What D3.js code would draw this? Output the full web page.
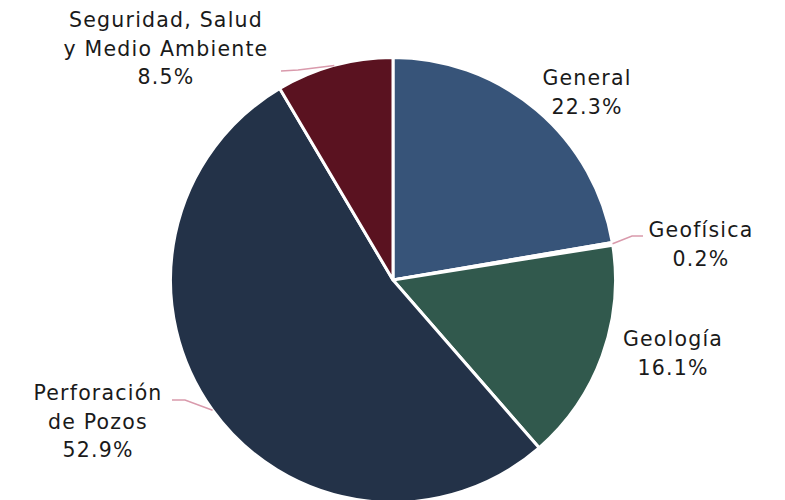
<!DOCTYPE html>
<html>
<head>
<meta charset="utf-8">
<script src="https://cdn.jsdelivr.net/npm/d3@7"></script>
<style>
  html, body { margin: 0; padding: 0; background: #fff; }
</style>
</head>
<body>
<div id="chart"></div>
<script>
const categories = ["General", "Geofísica", "Geología", "Perforación de Pozos", "Seguridad, Salud y Medio Ambiente"];
const values = [22.3, 0.2, 16.1, 52.9, 8.5];
const labelLines = [
  ["General"],
  ["Geofísica"],
  ["Geología"],
  ["Perforación", "de Pozos"],
  ["Seguridad, Salud", "y Medio Ambiente"]
];
const colors = ["#375479", "#8a8f99", "#31594d", "#233248", "#5a1220"];

// label placement, relative to pie centre (first baseline)
const labelPos = [
  { dx: 194, dy: -195, leader: null },
  { dx: 308, dy: -43, leader: [[239, -44], [250, -44]] },
  { dx: 280, dy: 66, leader: null },
  { dx: -295, dy: 120, leader: [[-208, 120], [-221, 120]] },
  { dx: -227, dy: -253, leader: [[-95, -210], [-112, -209]] }
];

const width = 785, height = 500;
const cx = 393, cy = 280, r = 222.5;

const svg = d3.select("#chart")
  .append("svg")
    .attr("width", width)
    .attr("height", height)
  .append("g")
    .attr("transform", `translate(${cx},${cy})`);

const data = categories.map((c, i) => ({ name: c, value: values[i], i }));

const pie = d3.pie()
  .value(d => d.value)
  .sort(null);

const arc = d3.arc().innerRadius(0).outerRadius(r);
const edge = d3.arc().innerRadius(r).outerRadius(r);

const arcs = pie(data);

// slices
svg.selectAll("path.slice")
  .data(arcs)
  .enter()
  .append("path")
    .attr("class", "slice")
    .attr("d", arc)
    .attr("fill", d => colors[d.data.i])
    .attr("stroke", "#fff")
    .attr("stroke-width", 3)
    .attr("stroke-linejoin", "round");

// leader lines
svg.selectAll("polyline.leader")
  .data(arcs.filter(d => labelPos[d.data.i].leader))
  .enter()
  .append("polyline")
    .attr("class", "leader")
    .attr("points", d => [edge.centroid(d)].concat(labelPos[d.data.i].leader).map(p => p.join(",")).join(" "))
    .attr("fill", "none")
    .attr("stroke", "#d99aac")
    .attr("stroke-width", 1.5);

// labels
const lbl = svg.selectAll("text.label")
  .data(arcs)
  .enter()
  .append("text")
    .attr("class", "label")
    .attr("x", d => labelPos[d.data.i].dx)
    .attr("y", d => labelPos[d.data.i].dy)
    .attr("text-anchor", "middle")
    .attr("font-family", "'DejaVu Sans', sans-serif")
    .attr("font-size", "20.5px")
    .attr("letter-spacing", "1.2px")
    .attr("fill", "#1a1a1a");

lbl.each(function(d) {
  const t = d3.select(this);
  const lines = labelLines[d.data.i].concat([d.data.value.toFixed(1) + "%"]);
  lines.forEach((s, k) => {
    t.append("tspan")
      .attr("x", labelPos[d.data.i].dx)
      .attr("dy", k === 0 ? 0 : 28.5)
      .text(s);
  });
});
</script>
</body>
</html>
